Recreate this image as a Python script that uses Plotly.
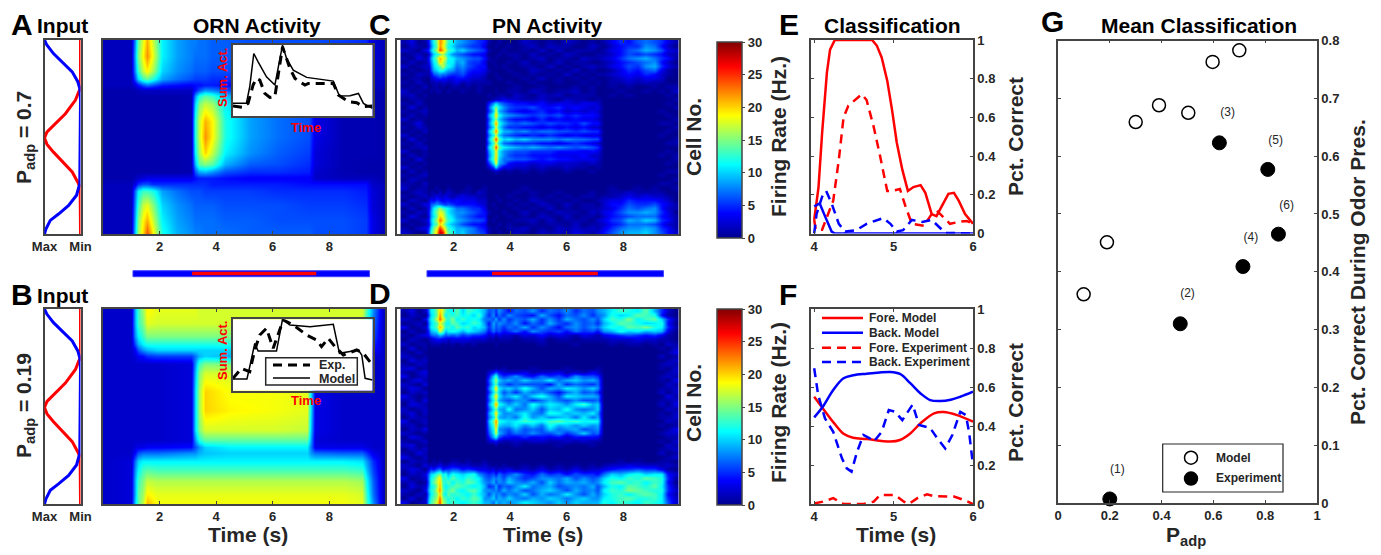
import plotly.graph_objects as go

W, H = 1381, 555

# ---------- colours ----------
JET = [[0, '#00008f'], [0.125, '#0000ff'], [0.375, '#00ffff'], [0.625, '#ffff00'], [0.875, '#ff0000'], [1, '#800000']]
INK = '#262626'
AX = '#444444'

# ---------- input profiles (panels A, B) ----------
INPUT_BLUE_Y = [0, .026, .07, .12, .164, .215, .25, .31, .707, .74, .80, .853, .897, .93, .974, 1]
INPUT_BLUE_V = [1, .935, .75, .47, .23, .075, .02, 0, 0, .02, .11, .33, .61, .84, .96, 1]
INPUT_RED_Y = [0, .25, .267, .31, .38, .44, .474, .505, .538, .578, .63, .68, .733, .76, 1]
INPUT_RED_V = [0, 0, .05, .14, .42, .75, .93, 1, .93, .75, .47, .23, .075, .01, 0]

# ---------- ORN heatmap, fraction-of-cells rows, seconds columns ----------
ORN_A_T = [0.1, 1.0, 1.12, 1.25, 1.4, 1.55, 1.75, 2.1, 2.6, 3.1, 3.25, 3.4, 3.6, 3.85, 4.3, 5.2, 6.2, 7.3, 7.5, 8.5, 9.3, 9.5, 9.9]
ORN_A_F = [0, .08, .16, .20, .23, .26, .29, .33, .42, .50, .58, .64, .68, .71, .74, .78, .85, .93, 1]
ORN_A_Z = [
 [1.5,1.5,8,14,18,21,17,11,8.5,7.5,7.5,7,7,6.5,6.5,6,6,6,6,5.5,5,2.5,1.5],
 [1.5,1.5,9,15,19,22,18,11,8.5,7.5,7,7,7,6.5,6.5,6,6,5.5,5.5,5,4.5,2.5,1.5],
 [1.5,1.5,8,13,17,19,16,10,8,7,6.5,6.5,6.5,6,6,5.5,5.5,5,5,5,4.5,2.5,1.5],
 [1.5,1.5,6,10,13,14,12,8.5,7,6,5.5,5.5,5.5,5,5,5,4.5,4.5,4.5,4.5,4,2,1.5],
 [1.5,1.5,2.5,4,6,7,6,4.5,4,3.5,4,4,4.5,4.5,4,4,3.5,3.5,3,3,3,2,1.5],
 [1,1,1.2,1.5,1.7,1.8,1.8,1.8,1.8,1.8,4,6,8,7.5,6,5.5,5,4.5,3,2,2,1.5,1],
 [1,1,1,1,1,1,1,1,1,1.2,8,12,14,13,9.5,7,6.5,6,2.5,1.5,1.5,1.2,1],
 [1,1,1,1,1,1,1,1,1,1.2,10,15,17,16,11,8,7,6,3,1.5,1.2,1.2,1],
 [1,1,1,1,1,1,1,1,1,1.2,12,17,21,19,12,8.5,7,6,3,1.2,1.2,1.2,1],
 [1,1,1,1,1,1,1,1,1,1.2,12,17,22,19,12,8.5,7,6,3,1.2,1.2,1.2,1],
 [1,1,1,1,1,1,1,1,1,1.2,11,16,20,17,11,8,6.5,5.5,2.5,1.2,1.2,1.2,1],
 [1,1,1,1,1,1,1,1,1,1.2,9,14,15,14,9,6.5,6,5,2.5,1.2,1,1,1],
 [1,1,1,1,1,1,1,1,1,1.2,6,8.5,9,8,6,5,5,4.5,2,1.2,1,1,1],
 [1,1,1.5,2,2.5,3,3,3,3,3,4,4.5,4.5,4.5,4,3.5,3.5,3.5,2,1.5,1.5,1.5,1],
 [1.5,1.5,3,5,6,6,5,5,5,5,5,5,5,4.5,4.5,4.5,4.5,4,4,4,4,2,1.5],
 [1.5,1.5,7,11,13,13,12,8.5,7,6,6,6,5.5,5.5,5.5,5.5,5,5,5,5,4.5,2.5,1.5],
 [1.5,1.5,8,13,17,18,15,10,8,7,6.5,6.5,6.5,6.5,6,6,6,5.5,5.5,5.5,5,2.5,1.5],
 [1.5,1.5,9,15,19,21,17,11,8.5,7.5,7,7,7,7,6.5,6.5,6,6,6,6,5.5,3,1.5],
 [1.5,1.5,10,16,20,24,19,12,9,8,7.5,7.5,7,7,7,6.5,6.5,6.5,6,6,5.5,3,1.5],
]
ORN_B_T = [0.1, 1.0, 1.12, 1.25, 1.4, 1.55, 1.9, 3.1, 3.25, 3.4, 3.6, 4.5, 6, 7.2, 7.35, 7.5, 8.5, 9.15, 9.35, 9.55, 9.9]
ORN_B_F = [0, .07, .14, .18, .21, .24, .28, .33, .42, .52, .62, .67, .71, .74, .78, .82, .88, .95, 1]
ORN_B_Z = [
 [2,2,9,13,16,19,18,18,18,17.5,17.5,17.5,17.5,17.5,17.5,17.5,17.5,17.5,13,8,2],
 [2,2,9,13,15,18,17.5,17.5,17.5,17.5,17.5,17.5,17.5,17.5,17.5,17.5,17.5,17.5,12,7,2],
 [2,2,8,11,13,15,15,15,15,15,15,15,15,15,15,15,15,15,10,6,2],
 [2,2,6,9,11,12,12,12,12,12,12,12,12,12,12,12,12,11,8,5,2],
 [2,2,3.5,6,8,9,10,10,10,10,10,10,10,10,10,9,9,9,6,4,2],
 [2,2,2.5,3.5,4,5,5.5,5.5,7,9,10,9,9,7,5,4,4,4,3,2.5,2],
 [2,2,2,2,2,2,2,2.5,8,13,15,15,15,14,8,3,2,2,2,2,2],
 [2,2,2,2,2,2,2,2.5,9,15,17.5,17.5,17.5,17,9,3,2,2,2,2,2],
 [2,2,2,2,2,2,2,2.5,10,16,20,18.5,18.5,18,10,3,2,2,2,2,2],
 [2,2,2,2,2,2,2,2.5,10,16,20,19,18.5,18,10,3,2,2,2,2,2],
 [2,2,2,2,2,2,2,2.5,10,15,17.5,17.5,17.5,17,9,3,2,2,2,2,2],
 [2,2,2,2,2,2,2,2.5,8,12,14,14,14,14,8,2.5,2,2,2,2,2],
 [2,2,2.5,3,3,3.5,3.5,4,6,8,10,11,11,11,7,3,3,3,2.5,2,2],
 [2,2,4,6,7,7,7,8,8,9,9.5,10,10,10,8,7,6.5,6.5,5,3,2],
 [2,2.5,7,10,11,11,11,11,11,11,11,11,11,11,11,11,11,10.5,8,5,2],
 [2,2.5,8,11,13,13.5,13,13,13,13,13,13,13,13,13,13,13,12.5,9,5.5,2],
 [2,2.5,9,13,15,17,16.5,16.5,16.5,16.5,16.5,16.5,16.5,16.5,16.5,16.5,16.5,16,11,6.5,2],
 [2,2.5,9,14,16,19,18,18,18,18,18,18,18,18,18,18,18,17.5,12,7,2],
 [2,2.5,10,14,17,21,18.5,18.5,18.5,18.5,18.5,18.5,18.5,18.5,18.5,18.5,18.5,18,13,8,2],
]

# ---------- PN heatmaps: one text row per cell group, one base-36 digit (Hz) per time column ----------
PN_T = [.25,.5,.75,1.0,
        1.1,1.2,1.3,1.4,1.5,1.6,1.7,1.8,1.95,2.1,2.3,2.5,2.7,2.9,3.1,
        3.25,3.4,3.5,3.6,3.75,3.95,4.2,4.5,4.8,5.1,5.4,5.7,6,6.3,6.6,6.9,7.1,
        7.3,7.6,7.9,8.2,8.5,8.8,9.1,9.35,9.55,9.85]
PN_C_ROWS = [
 "1301 48cfm kgdb9 87654 10010 00210 10210 10 13546 76531",
 "0210 37bem jfca8 76553 00100 10120 21100 21 02455 87420",
 "2103 59dgo lhdc9 a8765 10001 00102 02011 10 13467 98632",
 "0120 26ace hdb87 65443 00010 11020 10210 01 12465 65421",
 "1031 48cfl jgcb9 87664 10100 01012 01102 11 23578 97541",
 "0201 37bdk hebb8 96553 01000 10201 02011 00 12456 78420",
 "2012 26ace hdca7 86544 00101 00110 20101 21 13465 89531",
 "0101 159ac ca986 75443 10000 10021 01020 10 01354 67310",
 "1021 13678 77655 64332 00100 01010 10201 01 12343 54210",
 "0110 02345 44334 43221 00010 00102 01010 10 01232 33200",
 "1020 01121 22123 12111 10000 10010 01001 01 01121 21100",
 "0102 00110 10011 01010 00000 01001 00010 10 01010 01011",
 "2010 01011 00100 10010 00100 11021 01120 10 00100 10102",
 "1201 00000 00000 00000 10011 02102 12011 10 01010 00010",
 "0110 00000 00000 00000 01223 22112 10211 01 00000 00001",
 "1020 00000 00000 00000 48a86 54434 23323 32 00000 00010",
 "0301 00000 00000 00000 6cfb8 65564 45343 23 00000 00001",
 "1012 00000 00000 00000 5ai97 54345 34232 32 00000 00100",
 "0201 00000 00000 00000 8dkc9 87656 56454 43 00000 00010",
 "2010 00000 00000 00000 6cga7 54435 34343 32 00000 00001",
 "0130 00000 00000 00000 7emc9 76765 65546 44 00000 00110",
 "1021 00000 00000 00000 6bib7 55443 43434 22 00000 00001",
 "0102 00000 00000 00000 9fnd9 97867 76656 55 00000 00010",
 "2010 00000 00000 00000 7cha7 65454 54343 33 00000 00100",
 "0301 00000 00000 00000 9gpea b9a88 87877 66 00000 00001",
 "1020 00000 00000 00000 7dib7 65554 43454 32 00000 00011",
 "0112 00000 00000 00000 afpeb a9898 78767 65 00000 00000",
 "2001 00000 00000 00000 8djb8 76655 54443 43 00000 00010",
 "0201 00000 00000 00000 7dkb8 65544 43334 22 00000 00101",
 "1030 00000 00000 00000 8eka7 76654 54433 32 00000 00001",
 "0101 00000 00000 00000 5bi97 43323 32221 21 00000 00010",
 "2010 00000 00000 00000 26a63 32212 11211 01 00000 00000",
 "0201 00000 00000 00000 01210 10101 00100 10 00000 00011",
 "1012 00000 00000 00000 00000 00000 00000 00 00000 00100",
 "0210 00000 00000 00000 00000 00000 00000 00 00000 00001",
 "1102 00000 00000 00000 00000 00000 00000 00 00000 00110",
 "2011 00010 00100 01001 00000 00100 00000 00 01001 01001",
 "0121 01102 01210 11021 00000 01010 01000 10 01121 11100",
 "1012 11232 23212 32211 00100 10010 10101 10 11232 32210",
 "0210 24354 34434 33322 00010 01021 01010 01 23354 44320",
 "2013 36787 65654 44432 01000 10102 10201 10 24465 56431",
 "0201 37bdg dcb97 76553 00100 01010 20101 11 23576 78421",
 "1021 48cfi hdb98 87654 10001 00201 02110 21 34688 98530",
 "0310 38bek ieca8 76544 00100 10102 10201 10 24567 77431",
 "2012 49dgn kfdb9 87665 01000 01120 20111 02 35698 a9541",
 "0101 38cek hdb98 65443 00010 10010 11020 11 24577 76421",
 "1023 5afip lgdb9 98754 10100 11201 02121 21 35788 98541",
 "2101 6cgks qiec9 a8765 10010 02102 12132 12 46899 a8642",
]
PN_D_ROWS = [
 "1302 7bcfk hdcbe adcb9 67586 47685 76857 68 9bdcb e9520",
 "0210 6acem gbdcd bcad8 58475 86549 64768 57 8cabe dc410",
 "2103 8bdhn jecfb dbcb7 76958 57695 85976 86 adcfb dea51",
 "0120 7acdi fcbed abdc8 49687 68475 96586 75 9bedc abc40",
 "3012 7bcel hcdbe cdab9 58675 76958 64786 87 acbed fcb51",
 "0201 59abh e9bcb 9ba97 47564 57486 56475 64 89cab 9a930",
 "1023 46779 86767 56554 23132 21324 23213 21 34565 45310",
 "0210 12344 33233 33222 11011 10112 01101 11 12223 22110",
 "2011 01111 01010 10100 00100 00001 00010 00 01011 01021",
 "0301 00000 00000 00000 00000 00000 00000 00 00000 00102",
 "1020 00000 00000 00000 00000 00000 00000 00 00000 00013",
 "2101 00000 00000 00000 00000 00000 00000 00 00000 00201",
 "0312 00000 00000 00000 00000 00000 00000 00 00000 00012",
 "1021 00000 00000 00000 00000 00000 00000 00 00000 00121",
 "2301 00000 00000 00000 00101 00010 00100 01 00000 00102",
 "1023 00000 00000 00000 24642 22312 23121 32 00000 00012",
 "3012 00000 00000 00000 4ad75 68547 56486 65 00000 00121",
 "0231 00000 00000 00000 6cga8 97a88 b79a8 97 00000 00103",
 "2103 00000 00000 00000 5be87 57666 49576 57 00000 00021",
 "1320 00000 00000 00000 7dkb9 a8c96 98ba8 a8 00000 00112",
 "0212 00000 00000 00000 5bfa6 85978 64796 75 00000 00202",
 "3101 00000 00000 00000 7ekb8 9b7ac 96ba9 98 00000 00031",
 "1203 00000 00000 00000 6cg97 68857 97686 67 00000 00112",
 "0321 00000 00000 00000 8emca 8a7c9 ba8bd 9a 00000 00203",
 "2012 00000 00000 00000 6bf98 c78a6 a9c87 8a 00000 00021",
 "1302 00000 00000 00000 8dkb8 89b87 cb9a9 b8 00000 00102",
 "0211 00000 00000 00000 7bh98 97c8a 89a7b 79 00000 00112",
 "3012 00000 00000 00000 9fncb abdcb decdb cb 00000 00021",
 "1201 00000 00000 00000 8dla9 9b8a7 c9a8a 89 00000 00101",
 "0213 00000 00000 00000 7cj87 69676 a7896 78 00000 00013",
 "2101 00000 00000 00000 6bh97 57686 6857a 67 00000 00122",
 "0320 00000 00000 00000 49b64 43534 34243 43 00000 00011",
 "1012 00000 00000 00000 23421 12122 11212 11 00000 00102",
 "2301 00000 00000 00000 00100 01000 01000 10 00000 00021",
 "0212 00000 00000 00000 00000 00000 00000 00 00000 00112",
 "1031 00000 00000 00000 00000 00000 00000 00 00000 00201",
 "3102 00000 00000 00000 00000 00000 00000 00 00000 00012",
 "0211 00101 00011 01001 00000 00000 00000 00 00101 00110",
 "2103 12123 21232 22112 10101 00101 01010 10 12232 22121",
 "1320 35467 45566 45433 23122 31213 12131 22 34556 55310",
 "0213 7abdf bc9cb abc86 56475 68547 56465 54 7a9bc abb42",
 "3012 8bdgj cdbec bdcb7 68786 97568 87968 67 acbdc edc51",
 "1201 7cehk dcebd cedb8 79687 a8796 a7989 78 bdecd bdc40",
 "0312 8bcfl dbcde dcbc9 56957 68b78 96787 96 9cbed ceb51",
 "2103 9cdhm ecdfc bdec8 87869 79679 a8697 86 bdcfe dcc52",
 "1021 8bdfk dbecd cbdb9 69786 87a69 78b86 97 acdbd edb41",
 "0302 9cegn fdcdb dced8 8a798 a8798 a979a 88 bcdec cdb52",
 "3012 adfio gecdc bcdc9 97a89 89ba9 8a8a9 99 cbdcb dcb62",
]


def decode(rows):
    return [[int(c, 36) for c in r.replace(' ', '')] for r in rows]


# ---------- stimulus bars (seconds) ----------
STIM_ORN_BACK = [1.06, 9.42]
STIM_ORN_FORE = [3.15, 7.54]
STIM_PN_BACK = [1.06, 9.42]
STIM_PN_FORE = [3.36, 7.1]

# ---------- inset curves ----------
IN_A_MODEL_X = [0,.096,.12,.149,.18,.24,.30,.324,.355,.384,.432,.528,.719,.763,.839,.899,.935,1]
IN_A_MODEL_Y = [.177,.177,.409,.874,.758,.549,.433,.688,.99,.805,.642,.54,.488,.279,.284,.316,.177,.107]
IN_A_EXP_X = [0,.072,.108,.144,.168,.192,.228,.264,.30,.324,.355,.408,.444,.516,.54,.624,.719,.755,.827,.887,.935,1]
IN_A_EXP_Y = [.14,.121,.177,.433,.526,.503,.316,.26,.27,.549,.967,.665,.526,.433,.456,.456,.456,.293,.2,.186,.13,.14]
IN_B_MODEL_X = [0,.10,.12,.156,.18,.312,.355,.408,.552,.719,.763,.899,.923,.947,1]
IN_B_MODEL_Y = [.164,.164,.336,.664,.556,.556,1.0,.92,.897,.93,.523,.57,.5,.173,.15]
IN_B_EXP_X = [0,.06,.12,.156,.192,.24,.288,.324,.36,.432,.528,.6,.635,.683,.731,.791,.887,.935,1]
IN_B_EXP_Y = [.173,.313,.266,.57,.78,.874,.593,.78,.99,.92,.78,.71,.617,.734,.617,.5,.57,.523,.36]

# ---------- panel E ----------
E_FORE_MODEL_T = [4,4.055,4.10,4.16,4.20,4.26,4.73,4.79,4.85,4.92,4.98,5.04,5.11,5.18,5.25,5.34,5.40,5.48,5.54,5.61,5.69,5.76,5.82,5.90,6]
E_FORE_MODEL = [.07,.24,.52,.83,.95,1,1,.97,.91,.79,.64,.47,.33,.22,.24,.25,.21,.10,.09,.147,.205,.21,.17,.10,.05]
E_FORE_EXP_T = [4,4.02,4.10,4.18,4.24,4.31,4.37,4.43,4.52,4.60,4.66,4.75,4.83,4.92,4.98,5.08,5.15,5.23,5.38,5.48,5.54,5.63,5.71,5.82,5.92,6]
E_FORE_EXP = [.07,.02,.02,.1,.17,.38,.60,.66,.69,.72,.69,.55,.40,.22,.22,.23,.14,.05,.04,.10,.12,.08,.05,.06,.065,.05]
E_BACK_MODEL_T = [4,4.07,4.14,4.22,4.26,6]
E_BACK_MODEL = [.14,.155,.086,.01,0,0]
E_BACK_EXP_T = [4,4.03,4.10,4.15,4.22,4.31,4.39,4.53,4.66,4.87,4.96,5.04,5.12,5.23,5.36,5.48,5.57,5.65,6]
E_BACK_EXP = [0,.1,.19,.22,.155,.05,.01,.017,.05,.08,.05,.01,.017,.07,.06,.07,.035,.003,0]

# ---------- panel F ----------
F_MODEL_T = [4,4.11,4.24,4.37,4.49,4.66,4.96,5.08,5.21,5.34,5.51,5.63,5.80,6]
F_FORE_MODEL = [.55,.49,.42,.36,.34,.333,.32,.328,.362,.414,.465,.472,.456,.422]
F_BACK_MODEL_T = [4,4.11,4.24,4.37,4.49,4.66,4.96,5.08,5.21,5.34,5.46,5.59,5.72,5.84,6]
F_BACK_MODEL = [.444,.50,.585,.645,.66,.668,.677,.667,.62,.567,.533,.528,.535,.55,.576]
F_BACK_EXP_T = [4,4.05,4.135,4.24,4.35,4.41,4.47,4.54,4.62,4.70,4.75,4.85,4.94,5.02,5.11,5.19,5.24,5.32,5.46,5.55,5.65,5.74,5.84,5.91,5.95,6]
F_BACK_EXP = [.696,.56,.44,.37,.234,.183,.166,.268,.354,.337,.32,.37,.482,.473,.43,.48,.51,.405,.39,.337,.285,.354,.473,.456,.37,.2]
F_FORE_EXP_T = [4,4.11,4.24,4.37,4.62,4.75,4.83,5.02,5.13,5.19,5.30,5.42,5.51,5.76,5.89,6]
F_FORE_EXP = [.003,.012,.03,0,0,.012,.046,.046,.012,0,.03,.05,.04,.038,.02,0]

# ---------- panel G ----------
G_MODEL_X = [.099,.189,.30,.39,.503,.597,.70]
G_MODEL_Y = [.361,.451,.659,.688,.675,.763,.783]
G_EXP_X = [.2,.472,.623,.714,.81,.851]
G_EXP_Y = [.007,.31,.623,.409,.577,.465]
G_LABELS = ['(1)','(2)','(3)','(4)','(5)','(6)']
G_LABEL_X = [.229,.5,.655,.745,.84,.883]
G_LABEL_Y = [.0575,.361,.675,.459,.626,.514]


def fx(p): return p / W
def fy(p): return 1 - p / H

FONT = 'Liberation Sans'
fig = go.Figure()
tickfont = dict(family=FONT, size=13, color=INK, weight=700)


def axes(n, box, xr, yr, xticks=None, xtext=None, yticks=None, yside='left', mirror=True, layer='above traces'):
    x0, x1, y0, y1 = box
    xn = 'xaxis' if n == 1 else f'xaxis{n}'
    yn = 'yaxis' if n == 1 else f'yaxis{n}'
    anchor_y = 'y' if n == 1 else f'y{n}'
    anchor_x = 'x' if n == 1 else f'x{n}'
    fig.update_layout({
        xn: dict(domain=[fx(x0), fx(x1)], range=xr, anchor=anchor_y, showgrid=False, zeroline=False,
                 showline=True, linecolor=AX, linewidth=1.5, mirror='ticks' if mirror else True, layer=layer,
                 tickmode='array', tickvals=xticks or [], ticktext=xtext, ticks='inside', ticklen=3,
                 tickcolor=AX, tickfont=tickfont),
        yn: dict(domain=[fy(y1), fy(y0)], range=yr, anchor=anchor_x, showgrid=False, zeroline=False,
                 showline=True, linecolor=AX, linewidth=1.5, mirror='ticks' if mirror else True, layer=layer,
                 tickmode='array', tickvals=yticks or [], ticks='inside', ticklen=3, side=yside,
                 tickcolor=AX, tickfont=tickfont),
    })


def tr(n):
    return dict(xaxis='x' if n == 1 else f'x{n}', yaxis='y' if n == 1 else f'y{n}')


def line(n, x, y, color, dash=None, width=2.5, shape='spline', clip=True):
    fig.add_trace(go.Scatter(x=x, y=y, mode='lines', showlegend=False, hoverinfo='skip', cliponaxis=clip,
                             line=dict(color=color, width=width, dash=dash, shape=shape), **tr(n)))


def heat(n, x, y, z, bar=None, smooth='best'):
    kw = {}
    if bar is not None:
        kw = dict(showscale=True, colorbar=dict(
            x=fx(717.5), xanchor='left', y=fy(bar), yanchor='top', len=196, lenmode='pixels',
            thickness=25, thicknessmode='pixels', xpad=0, ypad=0, outlinecolor=AX, outlinewidth=1.5,
            tickmode='array', tickvals=[0, 5, 10, 15, 20, 25, 30], ticks='outside', ticklen=3, tickcolor=AX,
            tickfont=tickfont))
    else:
        kw = dict(showscale=False)
    fig.add_trace(go.Heatmap(x=x, y=y, z=z, zmin=0, zmax=30, colorscale=JET, zsmooth=smooth,
                             hoverinfo='skip', **kw, **tr(n)))


TOP, BOT = (40, 234), (309, 504)
# input panels
for n, (t, b) in ((1, TOP), (5, BOT)):
    axes(n, (44.5, 80.5, t, b), [1, 0], [1, 0], xticks=[1, 0], xtext=['Max', 'Min'], mirror=False, layer='below traces')
    line(n, INPUT_RED_V, INPUT_RED_Y, '#ff0000', shape='linear', clip=False, width=3)
    line(n, INPUT_BLUE_V, INPUT_BLUE_Y, '#0000ff', shape='linear', clip=False, width=3)

# heatmaps
PN_RANGE = [len(PN_C_ROWS) - .5, -.5]
PN_Y = list(range(len(PN_C_ROWS)))
axes(2, (103, 385, *TOP), [0, 9.97], [1, 0], xticks=[2, 4, 6, 8], mirror=True)
heat(2, ORN_A_T, ORN_A_F, ORN_A_Z)
axes(3, (397, 679, *TOP), [0, 9.97], PN_RANGE, xticks=[2, 4, 6, 8])
heat(3, PN_T, PN_Y, decode(PN_C_ROWS), bar=42)
axes(6, (103, 385, *BOT), [0, 9.97], [1, 0], xticks=[2, 4, 6, 8])
heat(6, ORN_B_T, ORN_B_F, ORN_B_Z)
axes(7, (397, 679, *BOT), [0, 9.97], PN_RANGE, xticks=[2, 4, 6, 8])
heat(7, PN_T, PN_Y, decode(PN_D_ROWS), bar=309)

# E, F
PCT = [0, .2, .4, .6, .8, 1]
DASH = '9px,6px'
axes(4, (811, 973, 40, 233.5), [3.96, 6], [0, 1], xticks=[4, 5, 6], yticks=PCT, yside='right')
line(4, E_FORE_MODEL_T, E_FORE_MODEL, '#ff0000', shape='linear', clip=False)
line(4, E_BACK_MODEL_T, E_BACK_MODEL, '#0000ff', shape='linear', clip=False)
line(4, E_FORE_EXP_T, E_FORE_EXP, '#ff0000', dash=DASH, shape='linear', clip=False)
line(4, E_BACK_EXP_T, E_BACK_EXP, '#0000ff', dash=DASH, shape='linear', clip=False)
axes(8, (811, 973, 309, 504), [3.96, 6], [0, 1], xticks=[4, 5, 6], yticks=PCT, yside='right')
line(8, F_MODEL_T, F_FORE_MODEL, '#ff0000')
line(8, F_BACK_MODEL_T, F_BACK_MODEL, '#0000ff')
line(8, F_FORE_EXP_T, F_FORE_EXP, '#ff0000', dash=DASH, shape='linear', clip=False)
line(8, F_BACK_EXP_T, F_BACK_EXP, '#0000ff', dash=DASH, shape='linear')

# G
axes(9, (1058, 1317, 40.5, 503), [0, 1], [0, .8], xticks=[0, .2, .4, .6, .8, 1],
     yticks=[0, .1, .2, .3, .4, .5, .6, .7, .8], yside='right')
fig.add_trace(go.Scatter(x=G_MODEL_X, y=G_MODEL_Y, mode='markers', showlegend=False, hoverinfo='skip',
                         marker=dict(size=13, color='white', line=dict(color='black', width=1.5)), **tr(9)))
fig.add_trace(go.Scatter(x=G_EXP_X, y=G_EXP_Y, mode='markers', showlegend=False, hoverinfo='skip', cliponaxis=False,
                         marker=dict(size=14, color='black', line=dict(color='black', width=1)), **tr(9)))
fig.add_trace(go.Scatter(x=G_LABEL_X, y=G_LABEL_Y, mode='text', text=G_LABELS, showlegend=False, hoverinfo='skip',
                         textfont=dict(family=FONT, size=12, color=INK), **tr(9)))

# insets
axes(10, (233, 372.5, 44.5, 116), [0, 1], [0, 1], mirror=False)
line(10, IN_A_MODEL_X, IN_A_MODEL_Y, 'black', width=1.5, shape='linear')
line(10, IN_A_EXP_X, IN_A_EXP_Y, 'black', dash=DASH, width=3, shape='linear')
axes(11, (233, 372.5, 319.3, 390.7), [0, 1], [0, 1], mirror=False)
line(11, IN_B_MODEL_X, IN_B_MODEL_Y, 'black', width=1.5, shape='linear')
line(11, IN_B_EXP_X, IN_B_EXP_Y, 'black', dash=DASH, width=3, shape='linear')

# annotations
ANNS = [
 ('A', 22, 24, 30, 'black', 0), ('Input', 62.7, 26, 21, 'black', 0), ('ORN Activity', 256.7, 26, 21, 'black', 0),
 ('C', 380, 25, 30, 'black', 0), ('PN Activity', 547, 26, 21, 'black', 0), ('E', 789, 24, 30, 'black', 0),
 ('Classification', 892, 26, 21, 'black', 0), ('G', 1052.7, 21, 30, 'black', 0), ('Mean Classification', 1199, 26, 21, 'black', 0),
 ('B', 22, 294, 30, 'black', 0), ('Input', 62.7, 295, 21, 'black', 0), ('D', 380, 293, 30, 'black', 0), ('F', 788, 294, 30, 'black', 0),
 ('P<sub>adp</sub> = 0.7', 25, 138, 21, INK, -90), ('P<sub>adp</sub> = 0.19', 25, 406, 21, INK, -90),
 ('Time (s)', 248, 534, 21, INK, 0), ('Time (s)', 542.7, 534, 21, INK, 0), ('Time (s)', 895.7, 534, 21, INK, 0),
 ('Cell No.', 693, 137, 21, INK, -90), ('Cell No.', 693, 403, 21, INK, -90),
 ('Firing Rate (Hz.)', 778, 137, 21, INK, -90), ('Firing Rate (Hz.)', 778, 403, 21, INK, -90),
 ('Pct. Correct', 1015, 137, 21, INK, -90), ('Pct. Correct', 1015, 403, 21, INK, -90),
 ('Pct. Correct During Odor Pres.', 1357, 272, 21, INK, -90), ('P<sub>adp</sub>', 1186, 536, 21, INK, 0),
 ('Sum. Act.', 222, 77, 13, '#ff0000', -90), ('Time', 306, 127, 13, '#ff0000', 0),
 ('Sum. Act.', 222, 350, 13, '#ff0000', -90), ('Time', 306, 401, 13, '#ff0000', 0),
]
annotations = [dict(text=t, x=fx(x), y=fy(y), xref='paper', yref='paper', showarrow=False, textangle=a,
                    xanchor='center', yanchor='middle', font=dict(family=FONT, size=s, color=c, weight=700))
               for t, x, y, s, c, a in ANNS]


def left_text(t, x, y, size, color=INK):
    annotations.append(dict(text=t, x=fx(x), y=fy(y), xref='paper', yref='paper', showarrow=False,
                            xanchor='left', yanchor='middle', font=dict(family=FONT, size=size, color=color, weight=700)))


shapes = []


def pline(x0, x1, y, color, dash=None, width=2.5):
    shapes.append(dict(type='line', xref='paper', yref='paper', x0=fx(x0), x1=fx(x1), y0=fy(y), y1=fy(y),
                       layer='above', line=dict(color=color, width=width, dash=dash)))


# stimulus bars
for xref, back, fore in (('x2', STIM_ORN_BACK, STIM_ORN_FORE), ('x3', STIM_PN_BACK, STIM_PN_FORE)):
    shapes.append(dict(type='rect', xref=xref, yref='paper', x0=back[0], x1=back[1], y0=fy(276.7), y1=fy(270.7),
                       fillcolor='#0000ff', line=dict(color='#4040ff', width=1), layer='above'))
    shapes.append(dict(type='rect', xref=xref, yref='paper', x0=fore[0], x1=fore[1], y0=fy(275.3), y1=fy(271.7),
                       fillcolor='#ff0000', line=dict(width=0), layer='above'))

# F legend
for label, col, dash, y in (('Fore. Model', '#ff0000', None, 318), ('Back. Model', '#0000ff', None, 332.7),
                            ('Fore. Experiment', '#ff0000', DASH, 347.7), ('Back. Experiment', '#0000ff', DASH, 362)):
    pline(822, 863, y, col, dash)
    left_text(label, 866.7, y, 12)

# B inset legend
shapes.append(dict(type='rect', xref='paper', yref='paper', x0=fx(265.7), x1=fx(357.3), y0=fy(385), y1=fy(357.7),
                   fillcolor='white', line=dict(color=INK, width=1.5), layer='above'))
pline(273, 310, 365, 'black', DASH, 3)
pline(273, 310, 378, 'black', None, 1.5)
left_text('Exp.', 316.7, 365, 12.5)
left_text('Model', 316.7, 378.5, 12.5)

# G legend
shapes.append(dict(type='rect', xref='paper', yref='paper', x0=fx(1162.7), x1=fx(1283), y0=fy(492), y1=fy(444),
                   fillcolor='white', line=dict(color=INK, width=1.2), layer='above'))
for y, fill in ((457.7, 'white'), (478.6, 'black')):
    shapes.append(dict(type='circle', xref='paper', yref='paper', x0=fx(1184.5), x1=fx(1197.5), y0=fy(y + 6.5), y1=fy(y - 6.5),
                       fillcolor=fill, line=dict(color='black', width=1.5), layer='above'))
left_text('Model', 1214, 457.5, 12)
left_text('Experiment', 1214, 478, 12)

fig.update_layout(width=W, height=H, margin=dict(l=0, r=0, t=0, b=0, autoexpand=False), autosize=False,
                  paper_bgcolor='white', plot_bgcolor='white', showlegend=False,
                  annotations=annotations, shapes=shapes)

fig.write_html("out.html", post_script="document.body.style.margin='0';document.documentElement.style.overflow='hidden';",
               config={'displayModeBar': False})
